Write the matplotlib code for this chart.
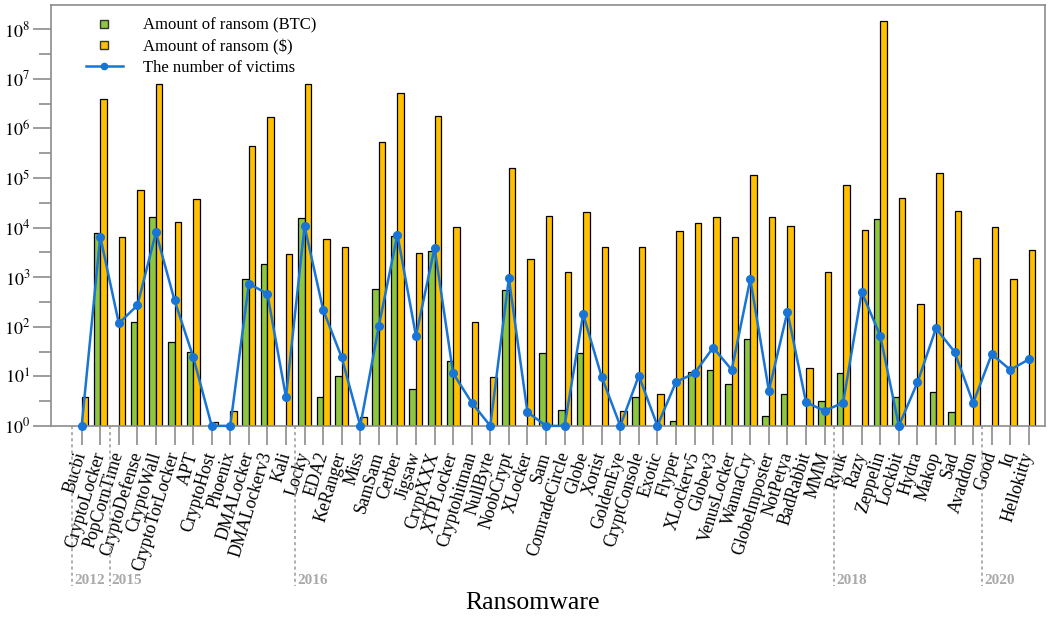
import numpy as np
import matplotlib.pyplot as plt
from matplotlib.lines import Line2D
import matplotlib.transforms as mtransforms

plt.rcParams['font.family'] = ['Liberation Serif', 'DejaVu Serif']
plt.rcParams['mathtext.fontset'] = 'stix'

nan = np.nan

names = ['Bucbi', 'CryptoLocker', 'PopCornTime', 'CryptoDefense', 'CryptoWall',
         'CryptoTorLocker', 'APT', 'CryptoHost', 'Phoenix', 'DMALocker',
         'DMALockerv3', 'Kali', 'Locky', 'EDA2', 'KeRanger', 'Miss', 'SamSam',
         'Cerber', 'Jigsaw', 'CryptXXX', 'XTPLocker', 'Cryptohitman', 'NullByte',
         'NoobCrypt', 'XLocker', 'Sam', 'ComradeCircle', 'Globe', 'Xorist',
         'GoldenEye', 'CryptConsole', 'Exotic', 'Flyper', 'XLockerv5', 'Globev3',
         'VenusLocker', 'WannaCry', 'GlobeImposter', 'NotPetya', 'BadRabbit',
         'MMM', 'Ryuk', 'Razy', 'Zeppelin', 'Lockbit', 'Hydra', 'Makop', 'Sad',
         'Avaddon', 'Good', 'Iq', 'Hellokitty']

# amount of ransom in BTC
btc = [nan, 7600, nan, 125, 16600, 49, 31, nan, nan, 910,
       1870, nan, 15400, 3.9, 10.2, nan, 585,
       6800, 5.5, 3400, 20, nan, nan,
       550, nan, 29, 2.1, 29, nan,
       nan, 3.9, nan, 1.28, 12.3, 13.5,
       6.9, 57, 1.6, 4.4, nan,
       3.2, 11.5, nan, 15000, 3.8, nan, 4.8, 1.9,
       nan, nan, nan, nan]

# amount of ransom in dollars
usd = [3.8, 4.0e6, 6600, 58000, 7.7e6, 12800, 38000, 1.22, 2.0, 4.4e5,
       1.73e6, 2940, 7.7e6, 5800, 4100, 1.5, 5.4e5,
       5.1e6, 3100, 1.8e6, 10100, 123, 9.9,
       1.6e5, 2300, 17400, 1290, 21000, 4100,
       2.0, 4100, 4.4, 8400, 12200, 16600,
       6600, 1.15e5, 16600, 11000, 15,
       1290, 72000, 8900, 1.45e8, 40000, 290, 1.28e5, 22000,
       2400, 10300, 910, 3500]

victims = [1, 6600, 117, 270, 8000, 340, 25, 1, 1, 740,
           460, 3.8, 10700, 220, 24, 1, 104,
           7200, 65, 3900, 11.5, 2.95, 1,
           950, 1.9, 1, 1, 178, 9.7,
           1, 10.3, 1, 7.7, 11.5, 38,
           13.5, 910, 5.1, 200, 3.0,
           2.0, 2.95, 500, 65, 1, 7.5, 93, 31,
           2.9, 28, 13.5, 22]

years = ['2012', '2015', '2016', '2018', '2020']
year_start = [-0.5, 1.5, 11.5, 40.5, 48.5]

green = '#8dc63f'
orange = '#ffc000'
blue = '#1874d6'
gray = '#8c8c8c'

x = np.arange(len(names))
w = 0.35

fig = plt.figure(figsize=(10.48, 6.19), dpi=100)
ax = fig.add_axes([0.0487, 0.312, 0.9483, 0.68])

ax.bar(x - w / 2, btc, width=w, color=green, edgecolor='black', linewidth=0.9, zorder=2)
ax.bar(x + w / 2, usd, width=w, color=orange, edgecolor='black', linewidth=0.9, zorder=2)
ax.plot(x, victims, color=blue, lw=1.8, marker='o', ms=5.5, zorder=4, clip_on=False)

ax.set_yscale('log')
ax.set_ylim(1, 10 ** 8.49)
ax.set_xlim(-1.65, len(names) - 1 + 0.86)

ax.set_yticks([10.0 ** k for k in range(9)])
ax.set_yticks([10.0 ** (k + 0.5) for k in range(8)], minor=True)
ax.set_yticklabels(['$10^{%d}$' % k for k in range(9)], fontsize=13)
ax.yaxis.set_minor_formatter(plt.NullFormatter())
ax.tick_params(axis='y', which='major', length=13, width=1.2, color=gray, pad=2)
ax.tick_params(axis='y', which='minor', length=8.5, width=1.2, color=gray)

ax.set_xticks(x)
ax.set_xticklabels(names, rotation=73, ha='right', va='center',
                   rotation_mode='anchor', fontsize=12.8)
ax.tick_params(axis='x', length=14, width=1.2, color=gray, pad=5)

for s in ax.spines.values():
    s.set_color(gray)
    s.set_linewidth(1.2)

ax.set_xlabel('Ransomware', fontsize=18.5, labelpad=0)
ax.xaxis.set_label_coords(0.484, -0.42, transform=ax.transAxes)
ax.xaxis.label.set_va('center')

trans = mtransforms.blended_transform_factory(ax.transData, ax.transAxes)
for yr, pos in zip(years, year_start):
    ax.plot([pos, pos], [0, -0.38], transform=trans, clip_on=False,
            color='#999999', lw=1.1, linestyle=(0, (2, 2)))
    ax.text(pos + 0.12, -0.368, yr, transform=trans, color='#aaaaaa',
            fontsize=11, fontweight='bold', ha='left', va='center')

handles = [
    Line2D([], [], marker='s', linestyle='none', markerfacecolor=green,
           markeredgecolor='#333333', markersize=6),
    Line2D([], [], marker='s', linestyle='none', markerfacecolor=orange,
           markeredgecolor='#333333', markersize=6),
    Line2D([], [], color=blue, lw=1.8, marker='o', ms=4.5),
]
ax.legend(handles, ['Amount of ransom (BTC)', 'Amount of ransom ($)', 'The number of victims'],
          loc='upper left', bbox_to_anchor=(0.02, 1.005), frameon=False, fontsize=12,
          handlelength=2.2, handletextpad=1.2, labelspacing=0.3)

fig.savefig('out.png', dpi=100)
